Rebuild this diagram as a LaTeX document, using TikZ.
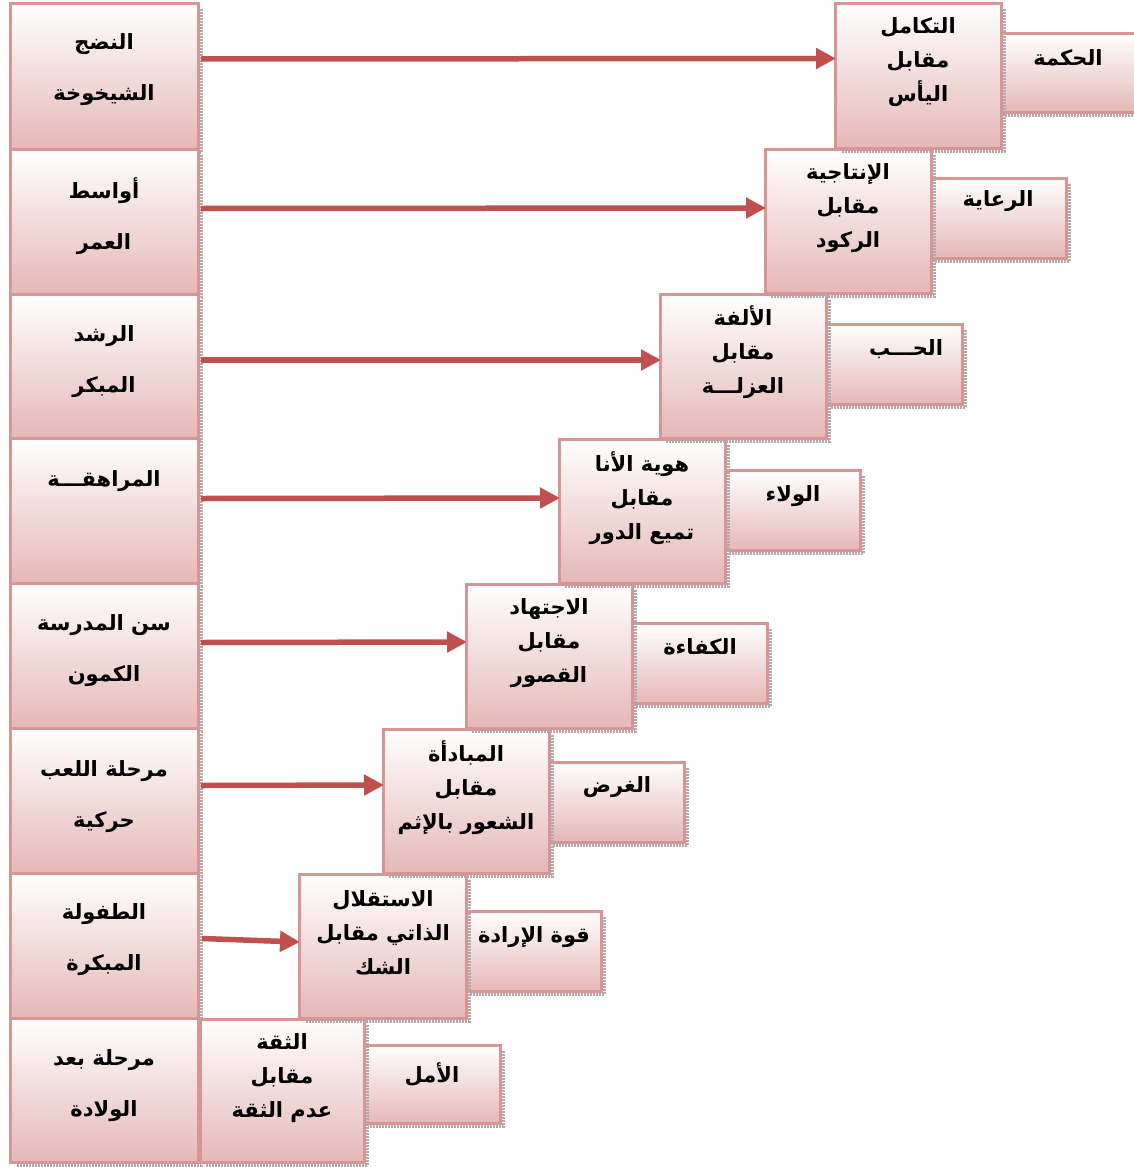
\documentclass[tikz,border=0pt]{standalone}
\usepackage{fontspec}
\newfontfamily\arabicfont[Script=Arabic]{DejaVu Sans}
\TeXXeTstate=1
\usetikzlibrary{calc,arrows.meta}
\definecolor{bord}{HTML}{D99594}
\definecolor{fillb}{HTML}{E5B8B7}
\definecolor{arrc}{HTML}{C0504D}
\newcommand\AR[1]{\beginR#1\endR}
\tikzset{
  pbox/.style={draw=bord, line width=3pt, top color=white, bottom color=fillb, inner sep=0pt, outer sep=0pt},
  shd/.style={draw=gray!65, line width=3pt, dash pattern=on 2pt off 1pt},
  txt/.style={font=\arabicfont\bfseries\fontsize{21}{34}\selectfont, align=center, inner sep=0pt, text=black},
  ltxt/.style={font=\arabicfont\bfseries\fontsize{21}{51}\selectfont, align=center, inner sep=0pt, text=black},
  arr/.style={draw=arrc, line width=5.5pt, -{Triangle[length=20pt,width=20pt]}, shorten >=-1pt}
}
% name x1 y1 x2 y2 (image pixels)
\newcommand\mybox[5]{%
  \draw[shd] (#4+3.5,#3+6) -- (#4+3.5,#5+3.5) -- (#2+6,#5+3.5);
  \node[pbox, minimum width={#4pt-#2pt}, minimum height={#5pt-#3pt}] (#1) at ({(#2+#4)/2},{(#3+#5)/2}) {};
}
\begin{document}
\begin{tikzpicture}[x=1pt,y=-1pt]
\useasboundingbox[fill=white] (0,0) rectangle (1133,1167);
% left column
\mybox{l1}{10}{3}{198}{149}
\mybox{l2}{10}{149}{198}{294}
\mybox{l3}{10}{294}{198}{438}
\mybox{l4}{10}{438}{198}{583}
\mybox{l5}{10}{583}{198}{728}
\mybox{l6}{10}{728}{198}{873}
\mybox{l7}{10}{873}{198}{1018}
\mybox{l8}{10}{1018}{198}{1162}
% rows from bottom to top: virtue, then stage
\mybox{v8}{362}{1045}{500}{1123}
\mybox{m8}{200}{1019}{364}{1162}
\mybox{v7}{464}{911}{601}{991}
\mybox{m7}{299}{874}{466}{1018}
\mybox{v6}{547}{762}{684}{842}
\mybox{m6}{383}{729}{549}{873}
\mybox{v5}{630}{623}{767}{703}
\mybox{m5}{466}{584}{632}{728}
\mybox{v4}{723}{470}{860}{550}
\mybox{m4}{559}{439}{725}{583}
\mybox{v3}{824}{324}{962}{404}
\mybox{m3}{660}{294}{826}{438}
\mybox{v2}{929}{178}{1066}{258}
\mybox{m2}{765}{149}{931}{293}
\mybox{v1}{998}{33}{1140}{112}
\mybox{m1}{835}{3}{1001}{148}
% left texts
\node[ltxt] (tl1) at (104,70) {\AR{النضج}\\\AR{الشيخوخة}};
\node[ltxt] (tl2) at (104,216) {\AR{أواسط}\\\AR{العمر}};
\node[ltxt] (tl3) at (104,362) {\AR{الرشد}\\\AR{المبكر}};
\node[ltxt] (tl4) at (104,481) {\AR{المراهقـــة}};
\node[ltxt] (tl5) at (104,651) {\AR{سن المدرسة}\\\AR{الكمون}};
\node[ltxt] (tl6) at (104,797) {\AR{مرحلة اللعب}\\\AR{حركية}};
\node[ltxt] (tl7) at (104,940) {\AR{الطفولة}\\\AR{المبكرة}};
\node[ltxt] (tl8) at (104,1086) {\AR{مرحلة بعد}\\\AR{الولادة}};
% stage texts
\node[txt] (tm1) at (918,62) {\AR{التكامل}\\\AR{مقابل}\\\AR{اليأس}};
\node[txt] (tm2) at (848,208) {\AR{الإنتاجية}\\\AR{مقابل}\\\AR{الركود}};
\node[txt] (tm3) at (743,352) {\AR{الألفة}\\\AR{مقابل}\\\AR{العزلـــة}};
\node[txt] (tm4) at (642,498) {\AR{هوية الأنا}\\\AR{مقابل}\\\AR{تميع الدور}};
\node[txt] (tm5) at (549,643) {\AR{الاجتهاد}\\\AR{مقابل}\\\AR{القصور}};
\node[txt] (tm6) at (466,788) {\AR{المبادأة}\\\AR{مقابل}\\\AR{الشعور بالإثم}};
\node[txt] (tm7) at (383,933) {\AR{الاستقلال}\\\AR{الذاتي مقابل}\\\AR{الشك}};
\node[txt] (tm8) at (282,1078) {\AR{الثقة}\\\AR{مقابل}\\\AR{عدم الثقة}};
% virtue texts
\node[txt] (tv1) at (1068,58) {\AR{الحكمة}};
\node[txt] (tv2) at (998,201) {\AR{الرعاية}};
\node[txt] (tv3) at (906,349) {\AR{الحـــب}};
\node[txt] (tv4) at (793,496) {\AR{الولاء}};
\node[txt] (tv5) at (700,647) {\AR{الكفاءة}};
\node[txt] (tv6) at (617,787) {\AR{الغرض}};
\node[txt] (tv7) at (534,937) {\AR{قوة الإرادة}};
\node[txt] (tv8) at (432,1074) {\AR{الأمل}};
% arrows
\draw[arr] ([xshift=3pt,yshift=17pt]l1.east) -- ([yshift=17pt]m1.west);
\draw[arr] ([xshift=3pt,yshift=13pt]l2.east) -- ([yshift=13pt]m2.west);
\draw[arr] ([xshift=3pt,yshift=6pt]l3.east) -- ([yshift=6pt]m3.west);
\draw[arr] ([xshift=3pt,yshift=12pt]l4.east) -- ([yshift=13pt]m4.west);
\draw[arr] ([xshift=3pt,yshift=13pt]l5.east) -- ([yshift=14pt]m5.west);
\draw[arr] ([xshift=3pt,yshift=15pt]l6.east) -- ([yshift=16pt]m6.west);
\draw[arr] ([xshift=4pt,yshift=7pt]l7.east) -- ([yshift=4pt]m7.west);
\end{tikzpicture}
\end{document}
